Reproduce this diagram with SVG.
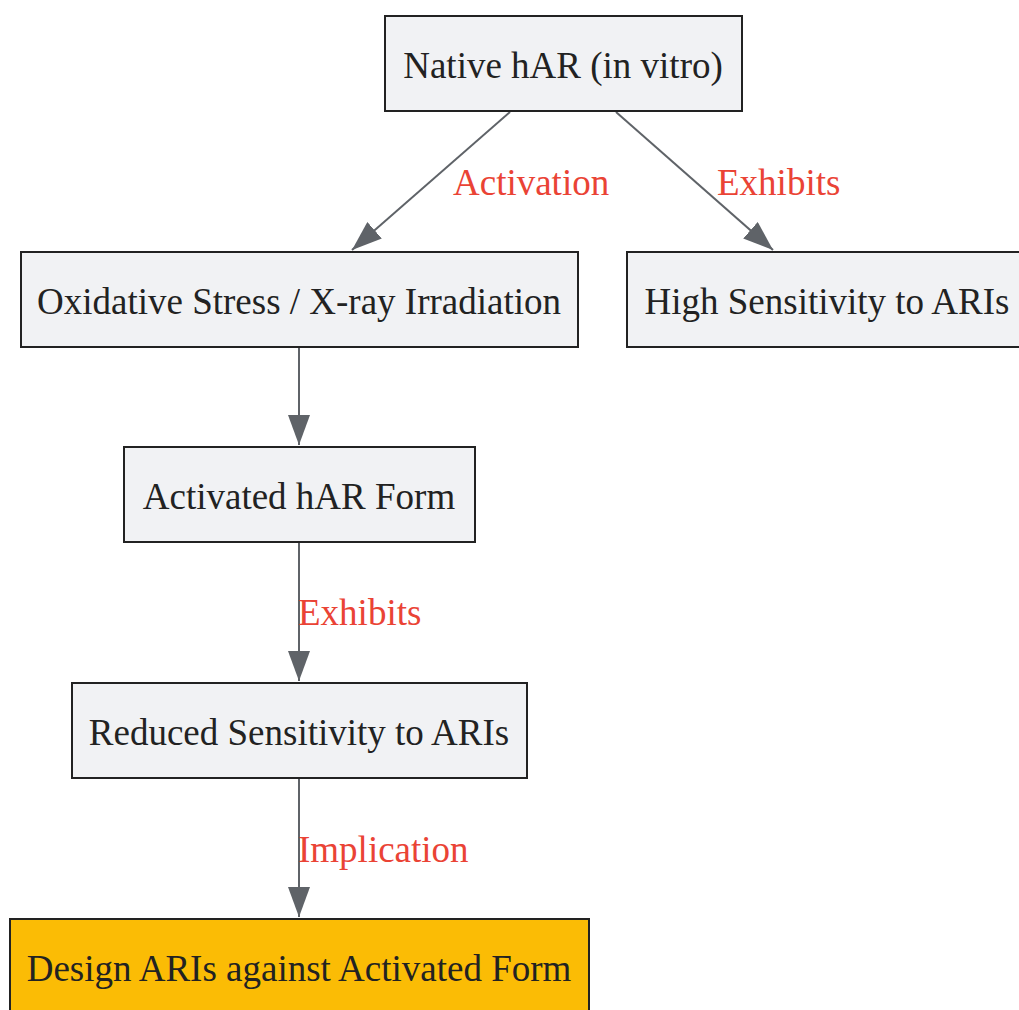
<svg xmlns="http://www.w3.org/2000/svg" width="1019" height="1010" viewBox="0 0 1019 1010">
<style>
.node rect{fill:#F1F2F4;stroke:#222;stroke-width:2}
.node text{font-family:"Liberation Serif",serif;font-size:37px;fill:#222;text-anchor:middle}
.edge{stroke:#5F6368;stroke-width:2;fill:none}
.lbl{font-family:"Liberation Serif",serif;font-size:37px;fill:#EA4335}
</style>
<defs>
<marker id="arr" viewBox="0 0 30 22" refX="30" refY="11" markerWidth="30" markerHeight="22" markerUnits="userSpaceOnUse" orient="auto">
<path d="M0,0 L30,11 L0,22 Z" fill="#5F6368"/>
</marker>
</defs>
<rect width="1019" height="1010" fill="#fff"/>
<g id="connectors">
<path class="edge" d="M510,112 L352,250" marker-end="url(#arr)"/>
<path class="edge" d="M616,112 L773,250" marker-end="url(#arr)"/>
<path class="edge" d="M299,348 L299,445" marker-end="url(#arr)"/>
<path class="edge" d="M299,543 L299,681" marker-end="url(#arr)"/>
<path class="edge" d="M299,779 L299,917" marker-end="url(#arr)"/>
<text class="lbl" x="453" y="195">Activation</text>
<text class="lbl" x="717" y="195">Exhibits</text>
<text class="lbl" x="298" y="625">Exhibits</text>
<text class="lbl" x="298" y="862">Implication</text>
</g>
<g id="n1" class="node"><rect x="385" y="16" width="357" height="95"/><text x="563" y="78">Native hAR (in vitro)</text></g>
<g id="n2" class="node"><rect x="21" y="252" width="557" height="95"/><text x="299" y="314">Oxidative Stress / X-ray Irradiation</text></g>
<g id="n3" class="node"><rect x="627" y="252" width="400" height="95"/><text x="827" y="314">High Sensitivity to ARIs</text></g>
<g id="n4" class="node"><rect x="124" y="447" width="351" height="95"/><text x="299" y="509">Activated hAR Form</text></g>
<g id="n5" class="node"><rect x="72" y="683" width="455" height="95"/><text x="299" y="745">Reduced Sensitivity to ARIs</text></g>
<g id="n6" class="node"><rect x="10" y="919" width="579" height="95" style="fill:#FBBC05"/><text x="299" y="981">Design ARIs against Activated Form</text></g>
</svg>
